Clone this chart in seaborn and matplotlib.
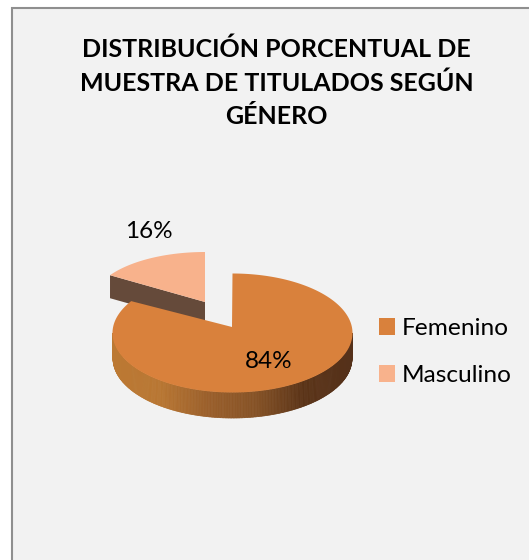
import matplotlib.pyplot as plt
import numpy as np
import seaborn as sns
from matplotlib.collections import PolyCollection
from matplotlib.colors import LinearSegmentedColormap
from matplotlib.patches import Patch, Rectangle

categories = ["Femenino", "Masculino"]
values = [84, 16]
title = "DISTRIBUCIÓN PORCENTUAL DE\nMUESTRA DE TITULADOS SEGÚN\nGÉNERO"

sns.set_theme(style="white")
plt.rcParams['font.family'] = ['Lato', 'DejaVu Sans']
colors = sns.color_palette(["#d9813c", "#f8b28c"])
side_cmap = LinearSegmentedColormap.from_list(
    "side", ["#bc7933", "#b87632", "#9a5f2b", "#855226", "#5a3317", "#55311a"])


def ellipse(theta, cx, cy, rx, ry):
    t = np.radians(theta)
    return np.column_stack([cx + rx * np.cos(t), cy - ry * np.sin(t)])


fig = plt.figure(figsize=(5.29, 5.60), dpi=100, facecolor="white")
ax = fig.add_axes([0, 0, 1, 1])
wedges, _ = ax.pie(values, startangle=90, counterclock=False)
angles = [(w.theta1, w.theta2) for w in wedges]
for w in wedges:
    w.remove()
ax.set_xlim(0, 529)
ax.set_ylim(560, 0)
ax.axis("off")

# chart frame runs off the right and bottom of the picture
ax.add_patch(Rectangle((11.5, 7.5), 530, 570, facecolor="#f2f2f2", edgecolor="#8f8f8f", lw=1.5))

# exploded slice, side face first
th = np.linspace(*angles[1], 80)
arc = ellipse(th, 205, 302, 112.5, 50)
tip = arc[np.argmin(arc[:, 0])]
apex = np.array([205, 302])
depth = np.array([0, 23])
ax.fill(*np.array([apex, tip, tip + depth, apex + depth]).T, color="#654a3a", lw=0)
ax.fill(*np.vstack([apex, arc]).T, color=colors[1], lw=0)

# main slice, gradient side wall then the top
th = np.linspace(*angles[0], 400)
front = np.sort(th[np.sin(np.radians(th)) < 0])
top_edge = ellipse(front, 232.5, 333, 120, 59.5)
low_edge = ellipse(front, 232.5, 358.5, 119.5, 59.5)
quads = [np.array([top_edge[i], top_edge[i + 1], low_edge[i + 1], low_edge[i]])
         for i in range(len(front) - 1)]
shade = (top_edge[:-1, 0] - top_edge[:, 0].min()) / np.ptp(top_edge[:, 0])
ax.add_collection(PolyCollection(quads, array=shade, cmap=side_cmap, edgecolors="face", linewidths=0.5))
ax.fill(*np.vstack([[232, 327], ellipse(th, 232.5, 333, 120, 59.5)]).T, color=colors[0], lw=0)

ax.text(276.5, 83, title, ha="center", va="center", fontsize=18, fontweight="bold",
        color="black", linespacing=1.53)
ax.text(149, 232, f"{values[1]}%", ha="center", va="center", fontsize=17.5, color="black")
ax.text(269, 362, f"{values[0]}%", ha="center", va="center", fontsize=17.5, color="black")

handles = [Patch(color=c, lw=0) for c in colors]
ax.legend(handles, categories, loc="center left", bbox_to_anchor=(369 / 529, 1 - 352 / 560),
          frameon=False, fontsize=17.6, handlelength=0.66, handleheight=0.66,
          handletextpad=0.28, labelspacing=1.06, borderpad=0.4, borderaxespad=0, labelcolor="black")

plt.savefig("out.png", dpi=100)
plt.close()
